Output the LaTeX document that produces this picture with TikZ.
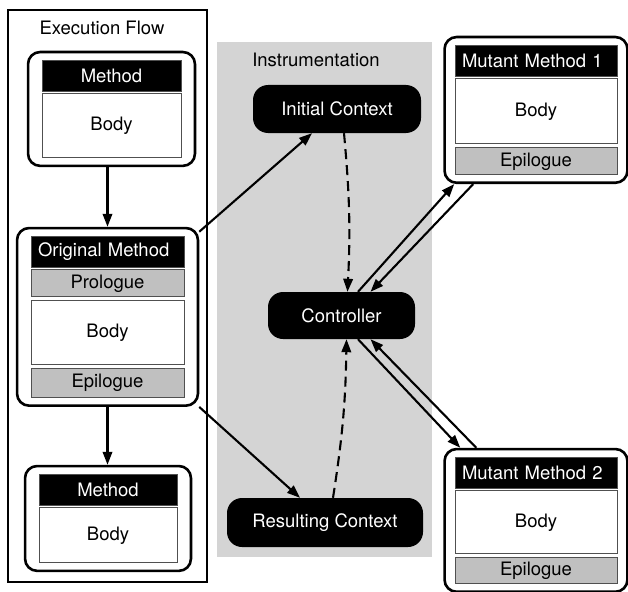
\documentclass[tikz,border=0pt]{standalone}
\usepackage{fontspec}
\setmainfont{TeX Gyre Heros}
\usetikzlibrary{positioning,fit,arrows.meta}
\definecolor{panelgray}{RGB}{212,212,212}
\definecolor{partgray}{RGB}{192,192,192}
\definecolor{edgegray}{RGB}{80,80,80}
\tikzset{
  method/.style={draw,line width=2.6pt,rounded corners=12pt,inner xsep=13.5pt,inner ysep=7.5pt},
  head/.style={fill=black,text=white,draw=edgegray,line width=0.9pt,minimum height=31pt,inner sep=0pt},
  part/.style={fill=partgray,draw=edgegray,line width=0.9pt,minimum height=27pt,inner sep=0pt},
  body/.style={fill=white,draw=edgegray,line width=0.9pt,minimum height=64pt,inner sep=0pt},
  context/.style={fill=black,text=white,rounded corners=15pt,minimum height=48pt,inner sep=0pt},
  flow/.style={line width=2.1pt,-{Triangle[length=13pt,width=9.5pt]}},
  ctrl/.style={flow,dash pattern=on 10pt off 6pt},
}
\begin{document}
\begin{tikzpicture}[x=1pt,y=-1pt,font=\fontsize{18.5}{22}\selectfont]
\useasboundingbox (0,0) rectangle (628,591);

\node[draw,line width=1.1pt,minimum width=199pt,minimum height=572pt,inner sep=0pt] (exec) at (107.5,296) {};
\node (execlabel) at (102,28) {Execution Flow};
\node[fill=panelgray,minimum width=215pt,minimum height=515pt,inner sep=0pt] (inst) at (324.5,299.5) {};
\node (instlabel) at (316,60) {Instrumentation};

% execution flow
\node[head,minimum width=139pt] (h1) at (111.5,75.5) {Method};
\node[body,below=2pt of h1,minimum width=139pt] (b1) {Body};
\node[method,fit=(h1)(b1)] (m1) {};

\node[head,minimum width=153pt,text width=139pt,align=left] (h2) at (107.5,251.5) {Original Method};
\node[part,below=2pt of h2,minimum width=153pt] (p2) {Prologue};
\node[body,below=3pt of p2,minimum width=153pt] (b2) {Body};
\node[part,below=3pt of b2,minimum width=153pt,minimum height=29pt] (e2) {Epilogue};
\node[method,fit=(h2)(e2)] (om) {};

\node[head,minimum width=138pt] (h3) at (108,489.5) {Method};
\node[body,below=2pt of h3,minimum width=138pt,minimum height=55pt] (b3) {Body};
\node[method,fit=(h3)(b3)] (m3) {};

% mutants
\node[head,minimum width=162pt,text width=148pt,align=left] (h4) at (536,60.5) {Mutant Method 1};
\node[body,below=2pt of h4,minimum width=162pt,minimum height=65pt] (b4) {Body};
\node[part,below=3pt of b4,minimum width=162pt] (e4) {Epilogue};
\node[method,fit=(h4)(e4),inner xsep=10pt] (mm1) {};

\node[head,minimum width=162pt,text width=148pt,align=left] (h5) at (536,472.5) {Mutant Method 2};
\node[body,below=2pt of h5,minimum width=162pt,minimum height=63pt] (b5) {Body};
\node[part,below=3pt of b5,minimum width=162pt,minimum height=26pt] (e5) {Epilogue};
\node[method,fit=(h5)(e5),inner xsep=10pt] (mm2) {};

% instrumentation
\node[context,minimum width=168pt] (ic) at (337,109) {Initial Context};
\node[context,minimum width=147pt,minimum height=47pt] (ctl) at (341.5,315.5) {Controller};
\node[context,minimum width=196pt,minimum height=49pt] (rc) at (325,522.5) {Resulting Context};

\draw[flow] (m1.south -| om.north) -- (om.north);
\draw[flow] (om.south) -- (om.south |- m3.north);
\draw[flow] ([yshift=-5pt]om.north east) -- ([xshift=-25pt]ic.south);
\draw[flow] (om.south east) -- ([xshift=-25pt]rc.north);

\draw[ctrl] ([xshift=7pt]ic.south) to[bend left=4] ([xshift=6pt]ctl.north);
\draw[ctrl] ([xshift=8pt]rc.north) to[bend right=4] ([xshift=5pt]ctl.south);

\draw[flow] ([xshift=16.5pt]ctl.north) -- ([xshift=11pt]mm1.south west);
\draw[flow] ([xshift=30pt]mm1.south west) -- ([xshift=29pt]ctl.north);
\draw[flow] ([xshift=16.5pt]ctl.south) -- ([xshift=17pt]mm2.north west);
\draw[flow] ([xshift=33pt]mm2.north west) -- ([xshift=29pt]ctl.south);
\end{tikzpicture}
\end{document}
